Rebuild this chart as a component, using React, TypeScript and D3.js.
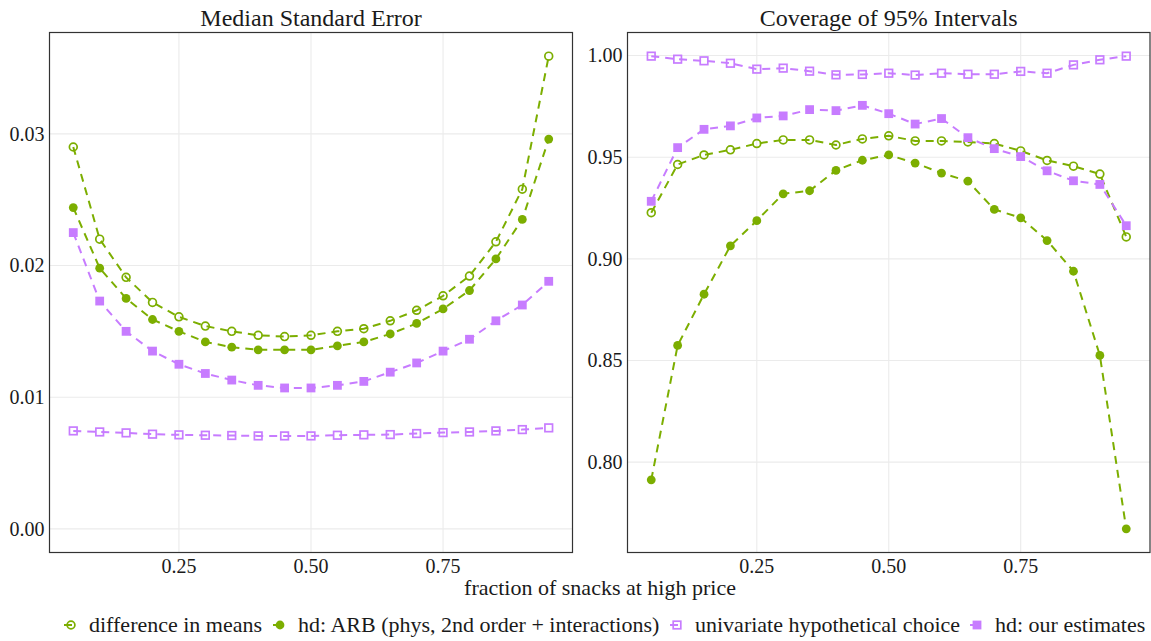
import React from "react";
import * as d3 from "d3";

// fraction of snacks at high price
const fractions = [0.05, 0.1, 0.15, 0.2, 0.25, 0.3, 0.35, 0.4, 0.45, 0.5, 0.55, 0.6, 0.65, 0.7, 0.75, 0.8, 0.85, 0.9, 0.95];

const methods = [
  "difference in means",
  "hd: ARB (phys, 2nd order + interactions)",
  "univariate hypothetical choice",
  "hd: our estimates",
];

// Median Standard Error
const seDiffMeans = [0.029, 0.022, 0.0191, 0.0172, 0.0161, 0.0154, 0.015, 0.0147, 0.0146, 0.0147, 0.015, 0.0152, 0.0158, 0.0166, 0.0177, 0.0192, 0.0218, 0.0258, 0.0359];
const seArb = [0.0244, 0.0198, 0.0175, 0.0159, 0.015, 0.0142, 0.0138, 0.0136, 0.0136, 0.0136, 0.0139, 0.0142, 0.0148, 0.0156, 0.0167, 0.0181, 0.0205, 0.0235, 0.0296];
const seUnivariate = [0.00744, 0.00736, 0.00729, 0.00719, 0.00714, 0.00711, 0.00709, 0.00706, 0.00706, 0.00706, 0.00711, 0.00714, 0.00716, 0.00724, 0.00731, 0.00736, 0.00744, 0.00754, 0.00767];
const seOurs = [0.0225, 0.0173, 0.015, 0.0135, 0.0125, 0.0118, 0.0113, 0.0109, 0.0107, 0.0107, 0.0109, 0.0112, 0.0119, 0.0126, 0.0135, 0.0144, 0.0158, 0.017, 0.0188];

// Coverage of 95% Intervals
const covDiffMeans = [0.9227, 0.9464, 0.9511, 0.9536, 0.9567, 0.9585, 0.9585, 0.956, 0.959, 0.9605, 0.958, 0.958, 0.9575, 0.9567, 0.9531, 0.9484, 0.9456, 0.9417, 0.9108];
const covArb = [0.7913, 0.8574, 0.8826, 0.9064, 0.9188, 0.932, 0.9335, 0.9435, 0.9485, 0.9511, 0.9471, 0.9422, 0.9382, 0.9243, 0.9202, 0.909, 0.8939, 0.8525, 0.7672];
const covUnivariate = [0.9997, 0.9982, 0.9974, 0.9962, 0.9933, 0.9938, 0.9923, 0.9905, 0.9907, 0.9913, 0.9904, 0.9913, 0.9908, 0.9908, 0.9922, 0.9913, 0.9954, 0.9979, 0.9997];
const covOurs = [0.9283, 0.9547, 0.9637, 0.9654, 0.9693, 0.9703, 0.9734, 0.9729, 0.9755, 0.9714, 0.9663, 0.969, 0.9596, 0.9542, 0.9503, 0.9433, 0.9384, 0.9366, 0.9163];

const xTicks = [0.25, 0.5, 0.75];
const seTicks = [0, 0.01, 0.02, 0.03];
const covTicks = [0.8, 0.85, 0.9, 0.95, 1.0];

const GREEN = "#7CAE00";
const PURPLE = "#C77CFF";
const FONT = '"Liberation Serif", "Times New Roman", Times, serif';

const styles = [
  { color: GREEN, shape: "circle", filled: false },
  { color: GREEN, shape: "circle", filled: true },
  { color: PURPLE, shape: "square", filled: false },
  { color: PURPLE, shape: "square", filled: true },
];

const W = 1151;
const H = 641;
const top = 32.5;
const bottom = 552.5;
const txt = { fontFamily: FONT };

const Marker = ({ x, y, s }: { x: number; y: number; s: any }) => {
  if (s.shape === "circle") {
    return s.filled ? (
      <circle cx={x} cy={y} r={4.4} fill={s.color} />
    ) : (
      <circle cx={x} cy={y} r={3.9} fill="none" stroke={s.color} strokeWidth={1.7} />
    );
  }
  return s.filled ? (
    <rect x={x - 4.4} y={y - 4.4} width={8.8} height={8.8} fill={s.color} />
  ) : (
    <rect x={x - 3.8} y={y - 3.8} width={7.6} height={7.6} fill="none" stroke={s.color} strokeWidth={1.7} />
  );
};

const Panel = ({ left, right, title, series, yTicks, yMin }: any) => {
  const x = d3.scaleLinear().domain([0.005, 0.995]).range([left, right]);
  const all = series.flat();
  const lo = yMin !== undefined ? Math.min(yMin, d3.min(all) as number) : (d3.min(all) as number);
  const hi = d3.max(all) as number;
  const pad = (hi - lo) * 0.05;
  const y = d3.scaleLinear().domain([lo - pad, hi + pad]).range([bottom, top]);
  const fmt = d3.format(".2f");
  const line = d3
    .line<number>()
    .x((_, i) => x(fractions[i]))
    .y((d) => y(d));

  return (
    <g>
      <text x={(left + right) / 2} y={26} textAnchor="middle" fontSize={24} fill="#1a1a1a" style={txt}>
        {title}
      </text>
      {xTicks.map((t) => (
        <line key={"gx" + t} x1={x(t)} x2={x(t)} y1={top} y2={bottom} stroke="#EBEBEB" strokeWidth={1.1} />
      ))}
      {yTicks.map((t: number) => (
        <line key={"gy" + t} x1={left} x2={right} y1={y(t)} y2={y(t)} stroke="#EBEBEB" strokeWidth={1.1} />
      ))}
      {series.map((vals: number[], k: number) => (
        <path key={"l" + k} d={line(vals) as string} fill="none" stroke={styles[k].color} strokeWidth={2} strokeDasharray="8,6" />
      ))}
      {series.map((vals: number[], k: number) =>
        vals.map((v, i) => <Marker key={"p" + k + "-" + i} x={x(fractions[i])} y={y(v)} s={styles[k]} />)
      )}
      <rect x={left} y={top} width={right - left} height={bottom - top} fill="none" stroke="#333" strokeWidth={1.2} />
      {yTicks.map((t: number) => (
        <text key={"ty" + t} x={left - 5} y={y(t)} dy="0.34em" textAnchor="end" fontSize={20} fill="#1a1a1a" style={txt}>
          {fmt(t)}
        </text>
      ))}
      {xTicks.map((t) => (
        <text key={"tx" + t} x={x(t)} y={bottom + 20} textAnchor="middle" fontSize={20} fill="#1a1a1a" style={txt}>
          {fmt(t)}
        </text>
      ))}
    </g>
  );
};

const legendX = [71, 280, 677, 977];

export default function App() {
  return (
    <svg width={W} height={H} style={{ position: "absolute", left: 0, top: 0, background: "#fff" }}>
      <Panel
        left={49.5}
        right={572.5}
        title="Median Standard Error"
        series={[seDiffMeans, seArb, seUnivariate, seOurs]}
        yTicks={seTicks}
        yMin={0}
      />
      <Panel
        left={627.5}
        right={1150}
        title="Coverage of 95% Intervals"
        series={[covDiffMeans, covArb, covUnivariate, covOurs]}
        yTicks={covTicks}
      />
      <text x={600} y={595} textAnchor="middle" fontSize={22} fill="#1a1a1a" style={txt}>
        fraction of snacks at high price
      </text>
      {methods.map((m, k) => (
        <g key={m}>
          <line x1={legendX[k] - 7} x2={legendX[k] + 7} y1={625} y2={625} stroke={styles[k].color} strokeWidth={2} strokeDasharray="8,6" />
          <Marker x={legendX[k]} y={625} s={styles[k]} />
          <text x={legendX[k] + 18} y={632} fontSize={22} fill="#1a1a1a" style={txt}>
            {m}
          </text>
        </g>
      ))}
    </svg>
  );
}
